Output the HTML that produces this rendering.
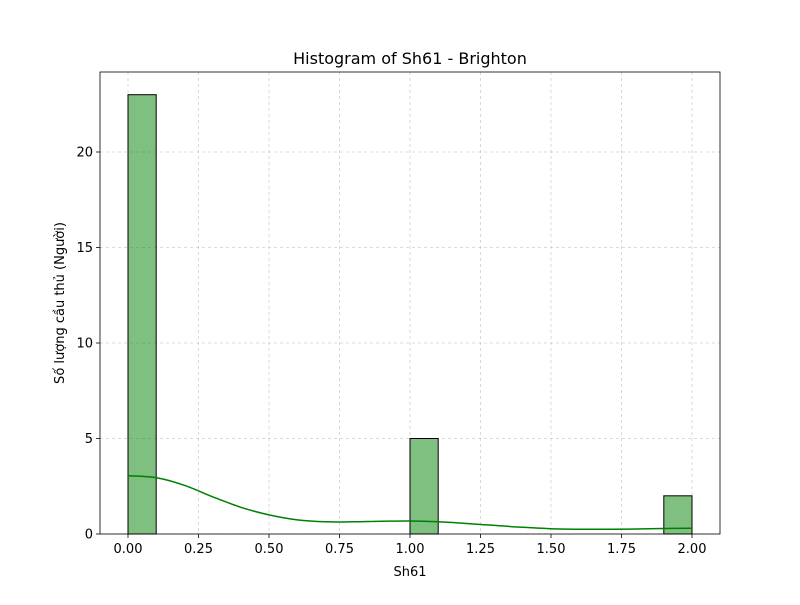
<!DOCTYPE html>
<html><head><meta charset="utf-8"><style>
body{margin:0;background:#fff;font-family:"Liberation Sans","DejaVu Sans",sans-serif;}
</style></head><body>
<svg id="c" width="800" height="600" xmlns="http://www.w3.org/2000/svg" font-family="DejaVu Sans, Liberation Sans, sans-serif"></svg>
<script>
const binStarts=[0,1.0,1.9];
const binCounts=[23,5,2];
const binWidth=0.1;
const kdeX=[0,0.1,0.2,0.3,0.4,0.5,0.6,0.7,0.8,0.9,1.0,1.1,1.2,1.3,1.4,1.5,1.6,1.7,1.8,1.9,2.0];
const kdeY=[3.05,2.95,2.55,1.95,1.4,1.0,0.74,0.64,0.64,0.67,0.68,0.64,0.55,0.45,0.35,0.28,0.25,0.25,0.26,0.29,0.3];
const xTicks=[0,0.25,0.5,0.75,1.0,1.25,1.5,1.75,2.0];
const xTickLabels=["0.00","0.25","0.50","0.75","1.00","1.25","1.50","1.75","2.00"];
const yTicks=[0,5,10,15,20];
const yTickLabels=["0","5","10","15","20"];
const L=100,R=720,T=72,B=534;
const sx=v=>128+v*282;
const sy=v=>534-v*19.1;
const svg=document.getElementById('c');
function mk(tag,attrs,name,text){const e=document.createElementNS('http://www.w3.org/2000/svg',tag);for(const k in attrs)e.setAttribute(k,attrs[k]);


if(text!==undefined)e.textContent=text;svg.appendChild(e);return e;}
xTicks.forEach((t,i)=>{const x=sx(t);
mk('line',{x1:x,x2:x,y1:T,y2:B,stroke:'#b0b0b0','stroke-width':0.8,'stroke-dasharray':'3,3',opacity:0.6},'x-gridline');
mk('line',{x1:x,x2:x,y1:B,y2:B+4,stroke:'#000','stroke-width':0.8},'x-tick');
mk('text',{x:x,y:B+19,'font-size':13,'text-anchor':'middle'},'x-tick-label',xTickLabels[i]);});
yTicks.forEach((t,i)=>{const y=sy(t);
mk('line',{x1:L,x2:R,y1:y,y2:y,stroke:'#b0b0b0','stroke-width':0.8,'stroke-dasharray':'3,3',opacity:0.6},'y-gridline');
mk('line',{x1:L-4,x2:L,y1:y,y2:y,stroke:'#000','stroke-width':0.8},'y-tick');
mk('text',{x:L-7,y:y+4.5,'font-size':13,'text-anchor':'end'},'y-tick-label',yTickLabels[i]);});
binStarts.forEach((s,i)=>{const x0=sx(s),x1=sx(s+binWidth),y=sy(binCounts[i]);
mk('rect',{x:x0,y:y,width:x1-x0,height:B-y,fill:'rgba(0,128,0,0.5)',stroke:'#000','stroke-width':1},'bar');});
const P=kdeX.map((v,i)=>[sx(v),sy(kdeY[i])]);
let d='M'+P[0][0]+','+P[0][1];
for(let i=0;i<P.length-1;i++){const p0=P[Math.max(i-1,0)],p1=P[i],p2=P[i+1],p3=P[Math.min(i+2,P.length-1)];
d+=' C'+(p1[0]+(p2[0]-p0[0])/6).toFixed(1)+','+(p1[1]+(p2[1]-p0[1])/6).toFixed(1)+' '+(p2[0]-(p3[0]-p1[0])/6).toFixed(1)+','+(p2[1]-(p3[1]-p1[1])/6).toFixed(1)+' '+p2[0].toFixed(1)+','+p2[1].toFixed(1);}
mk('path',{d:d,fill:'none',stroke:'green','stroke-width':1.5},'kde-line');
mk('rect',{x:L,y:T,width:R-L,height:B-T,fill:'none',stroke:'#000','stroke-width':0.8},'plot-frame');
mk('text',{x:410,y:64,'font-size':16,'text-anchor':'middle'},'chart-title','Histogram of Sh61 - Brighton');
mk('text',{x:410,y:576,'font-size':13,'text-anchor':'middle'},'x-axis-title','Sh61');
mk('text',{x:64,y:303,'font-size':13,'text-anchor':'middle',transform:'rotate(-90 64 303)'},'y-axis-title','Số lượng cầu thủ (Người)');
</script>
</body></html>
